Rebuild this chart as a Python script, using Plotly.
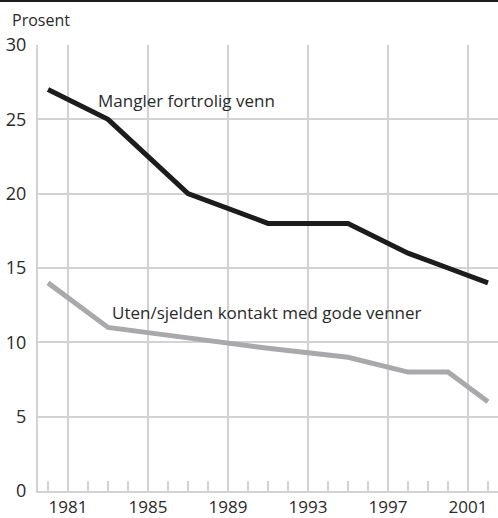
import plotly.graph_objects as go

years_a = [1980, 1983, 1987, 1991, 1995, 1998, 2000, 2002]
mangler = [27, 25, 20, 18, 18, 16, 15, 14]
years_b = [1980, 1983, 1987, 1991, 1995, 1998, 2000, 2002]
uten = [14, 11, 10.3, 9.6, 9, 8, 8, 6]
x_ticks = [1981, 1985, 1989, 1993, 1997, 2001]
y_ticks = [0, 5, 10, 15, 20, 25, 30]

FONT = "Open Sans"
GRID = "#d2d2d4"
TXT = "#2a2a2a"

fig = go.Figure()
fig.add_trace(go.Scatter(x=years_b, y=uten, mode="lines",
                         line=dict(color="#a9a9ac", width=5), showlegend=False))
fig.add_trace(go.Scatter(x=years_a, y=mangler, mode="lines",
                         line=dict(color="#1c1c1c", width=5), showlegend=False))

fig.add_annotation(x=1982.4, y=26.3, text="Mangler fortrolig venn", showarrow=False,
                   xanchor="left", yanchor="middle", font=dict(family=FONT, size=17, color=TXT))
fig.add_annotation(x=1983.1, y=12.0, text="Uten/sjelden kontakt med gode venner", showarrow=False,
                   xanchor="left", yanchor="middle", font=dict(family=FONT, size=17, color=TXT))
fig.add_annotation(x=0, xref="paper", xshift=-38 + 10, y=1, yref="paper", yshift=25,
                   text="Prosent", showarrow=False, xanchor="left", yanchor="middle",
                   font=dict(family=FONT, size=16, color=TXT))

fig.add_shape(type="line", xref="paper", yref="paper", x0=-38 / 460, x1=1,
              y0=1 + 44 / 446, y1=1 + 44 / 446, line=dict(color="#1c1c1c", width=2))

fig.update_layout(
    width=498, height=518,
    margin=dict(l=38, r=0, t=45, b=27),
    paper_bgcolor="white", plot_bgcolor="white",
    font=dict(family=FONT, size=17, color=TXT),
    xaxis=dict(range=[1979.5, 2002.5], tickmode="array", tickvals=x_ticks,
               ticktext=[str(v) for v in x_ticks],
               showgrid=True, gridcolor=GRID, gridwidth=2,
               showline=True, linecolor=GRID, linewidth=2,
               ticks="", zeroline=False,
               minor=dict(tickmode="linear", tick0=1980, dtick=1, ticks="inside",
                          ticklen=10, tickwidth=2, tickcolor=GRID, showgrid=False),
               tickfont=dict(size=17)),
    yaxis=dict(range=[0, 30], tickmode="array", tickvals=y_ticks,
               showgrid=True, gridcolor=GRID, gridwidth=2,
               showline=True, linecolor=GRID, linewidth=2,
               ticks="", zeroline=False, tickfont=dict(size=18), ticklabelstandoff=6),
)

fig.write_html("out.html", config={"displayModeBar": False},
               post_script="document.body.style.margin='0';document.body.style.overflow='hidden';")
